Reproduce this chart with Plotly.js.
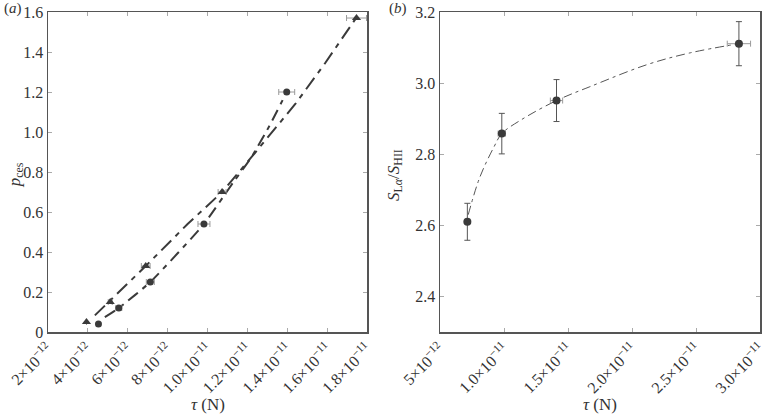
<!DOCTYPE html>
<html>
<head>
<meta charset="utf-8">
<script src="https://cdn.plot.ly/plotly-3.0.1.min.js"></script>
<style>
  html, body { margin: 0; padding: 0; background: #fff; }
  #chart { width: 768px; height: 415px; }
</style>
</head>
<body>
<div id="chart"></div>
<script>
// (a) triangles
const tauTri = [3.93e-12, 5.12e-12, 6.9e-12, 1.073e-11, 1.747e-11];
const pTri = [0.05, 0.15, 0.33, 0.70, 1.57];
const tauTriErr = [0, 0.1e-12, 0.22e-12, 0.2e-12, 0.5e-12];
// (a) circles
const tauCirc = [4.53e-12, 5.55e-12, 7.13e-12, 9.82e-12, 1.397e-11];
const pCirc = [0.04, 0.12, 0.25, 0.54, 1.2];
const tauCircErr = [0, 0.15e-12, 0.2e-12, 0.3e-12, 0.4e-12];
// (a) fitted curves
const fitTriX = [4.35e-12, 6.9e-12, 9.0e-12, 1.073e-11, 1.22e-11, 1.44e-11, 1.59e-11, 1.745e-11];
const fitTriY = [0.083, 0.33, 0.54, 0.70, 0.874, 1.14, 1.345, 1.57];
const fitCircX = [4.85e-12, 5.55e-12, 7.13e-12, 9.82e-12, 1.13e-11, 1.22e-11, 1.31e-11, 1.397e-11];
const fitCircY = [0.074, 0.12, 0.25, 0.54, 0.75, 0.874, 1.03, 1.2];

// (b)
const tauB = [7.13e-12, 9.82e-12, 1.409e-11, 2.833e-11];
const ratioB = [2.61, 2.858, 2.951, 3.111];
const ratioErr = [0.052, 0.057, 0.059, 0.062];
const tauBErr = [0.05e-12, 0.29e-12, 0.48e-12, 0.91e-12];
const fitBX = [7.2e-12, 8.1e-12, 9.2e-12, 9.82e-12, 1.125e-11, 1.409e-11, 1.67e-11, 2.115e-11, 2.45e-11, 2.833e-11];
const fitBY = [2.63, 2.735, 2.82, 2.858, 2.895, 2.951, 2.99, 3.052, 3.085, 3.111];

const tickA = [2e-12, 4e-12, 6e-12, 8e-12, 1.0e-11, 1.2e-11, 1.4e-11, 1.6e-11, 1.8e-11];
const tickAText = ['2×10<sup>−12</sup>', '4×10<sup>−12</sup>', '6×10<sup>−12</sup>', '8×10<sup>−12</sup>',
    '1.0×10<sup>−11</sup>', '1.2×10<sup>−11</sup>', '1.4×10<sup>−11</sup>', '1.6×10<sup>−11</sup>', '1.8×10<sup>−11</sup>'];
const tickB = [5e-12, 1.0e-11, 1.5e-11, 2.0e-11, 2.5e-11, 3.0e-11];
const tickBText = ['5×10<sup>−12</sup>', '1.0×10<sup>−11</sup>', '1.5×10<sup>−11</sup>', '2.0×10<sup>−11</sup>',
    '2.5×10<sup>−11</sup>', '3.0×10<sup>−11</sup>'];
const yTickA = [0, 0.2, 0.4, 0.6, 0.8, 1.0, 1.2, 1.4, 1.6];
const yTickAText = ['0', '0.2', '0.4', '0.6', '0.8', '1.0', '1.2', '1.4', '1.6'];
const yTickB = [2.4, 2.6, 2.8, 3.0, 3.2];
const yTickBText = ['2.4', '2.6', '2.8', '3.0', '3.2'];

const dark = '#3a3a3a';
const errGray = '#9a9a9a';
const fontFam = '"Liberation Serif", "Times New Roman", Times, serif';

const traces = [
    {x: fitTriX, y: fitTriY, mode: 'lines', line: {color: dark, width: 2, dash: '14px,6px,5px,6px'}, xaxis: 'x', yaxis: 'y'},
    {x: fitCircX, y: fitCircY, mode: 'lines', line: {color: dark, width: 2, dash: '12px,6px,5px,6px', shape: 'spline', smoothing: 0.5}, xaxis: 'x', yaxis: 'y'},
    {x: tauTri, y: pTri, mode: 'markers', marker: {symbol: 'triangle-up', size: 8, color: dark},
        error_x: {type: 'data', array: tauTriErr, color: errGray, thickness: 1, width: 3}, xaxis: 'x', yaxis: 'y'},
    {x: tauCirc, y: pCirc, mode: 'markers', marker: {symbol: 'circle', size: 7, color: dark},
        error_x: {type: 'data', array: tauCircErr, color: errGray, thickness: 1, width: 3}, xaxis: 'x', yaxis: 'y'},
    {x: fitBX, y: fitBY, mode: 'lines', line: {color: '#555', width: 1, dash: '9px,4px,3px,4px', shape: 'spline'}, xaxis: 'x2', yaxis: 'y2'},
    {x: tauB, y: ratioB, mode: 'markers', marker: {symbol: 'circle', size: 8, color: dark},
        error_y: {type: 'data', array: ratioErr, color: '#555', thickness: 1, width: 3},
        error_x: {type: 'data', array: tauBErr, color: errGray, thickness: 1, width: 3}, xaxis: 'x2', yaxis: 'y2'},
];

const axisBase = {
    showgrid: false, zeroline: false, showline: true, linecolor: '#555', linewidth: 1.5,
    mirror: 'ticks', ticks: 'inside', ticklen: 4, tickcolor: '#aaa', tickwidth: 1,
    ticklabeloverflow: 'allow',
    tickmode: 'array', tickfont: {family: fontFam, size: 16, color: '#333'},
};

const layout = {
    width: 768, height: 415,
    margin: {l: 0, r: 0, t: 12, b: 83},
    paper_bgcolor: '#fff', plot_bgcolor: '#fff',
    showlegend: false,
    font: {family: fontFam, color: '#333'},
    xaxis: Object.assign({}, axisBase, {domain: [0.0625, 0.478], range: [1.9999e-12, 1.8001e-11],
        tickvals: tickA, ticktext: tickAText, tickangle: -45, anchor: 'y'}),
    yaxis: Object.assign({}, axisBase, {range: [0, 1.6001], tickvals: yTickA, ticktext: yTickAText, anchor: 'x'}),
    xaxis2: Object.assign({}, axisBase, {domain: [0.573, 0.99], range: [4.9999e-12, 3.0001e-11],
        tickvals: tickB, ticktext: tickBText, tickangle: -45, anchor: 'y2'}),
    yaxis2: Object.assign({}, axisBase, {range: [2.3, 3.2001], tickvals: yTickB, ticktext: yTickBText, anchor: 'x2'}),
    annotations: [
        {text: '(<i>a</i>)', xref: 'paper', yref: 'paper', x: 0.002, y: 1.01, xanchor: 'left', yanchor: 'middle',
            showarrow: false, font: {family: fontFam, size: 15, color: '#333'}},
        {text: '(<i>b</i>)', xref: 'paper', yref: 'paper', x: 0.504, y: 1.01, xanchor: 'left', yanchor: 'middle',
            showarrow: false, font: {family: fontFam, size: 15, color: '#333'}},
        {text: '<i>p</i><sub>ces</sub>', xref: 'paper', yref: 'paper', x: 0.021, y: 0.49, textangle: -90,
            xanchor: 'center', yanchor: 'middle', showarrow: false, font: {family: fontFam, size: 17, color: '#333'}},
        {text: '<i>S</i><sub>L<i>α</i></sub>/<i>S</i><sub>HII</sub>', xref: 'paper', yref: 'paper', x: 0.514, y: 0.49, textangle: -90,
            xanchor: 'center', yanchor: 'middle', showarrow: false, font: {family: fontFam, size: 17, color: '#333'}},
        {text: '<i>τ</i> (N)', xref: 'paper', yref: 'paper', x: 0.271, y: -0.228,
            xanchor: 'center', yanchor: 'middle', showarrow: false, font: {family: fontFam, size: 17, color: '#333'}},
        {text: '<i>τ</i> (N)', xref: 'paper', yref: 'paper', x: 0.781, y: -0.228,
            xanchor: 'center', yanchor: 'middle', showarrow: false, font: {family: fontFam, size: 17, color: '#333'}},
    ],
};

Plotly.newPlot('chart', traces, layout, {displayModeBar: false, staticPlot: true});
</script>
</body>
</html>
